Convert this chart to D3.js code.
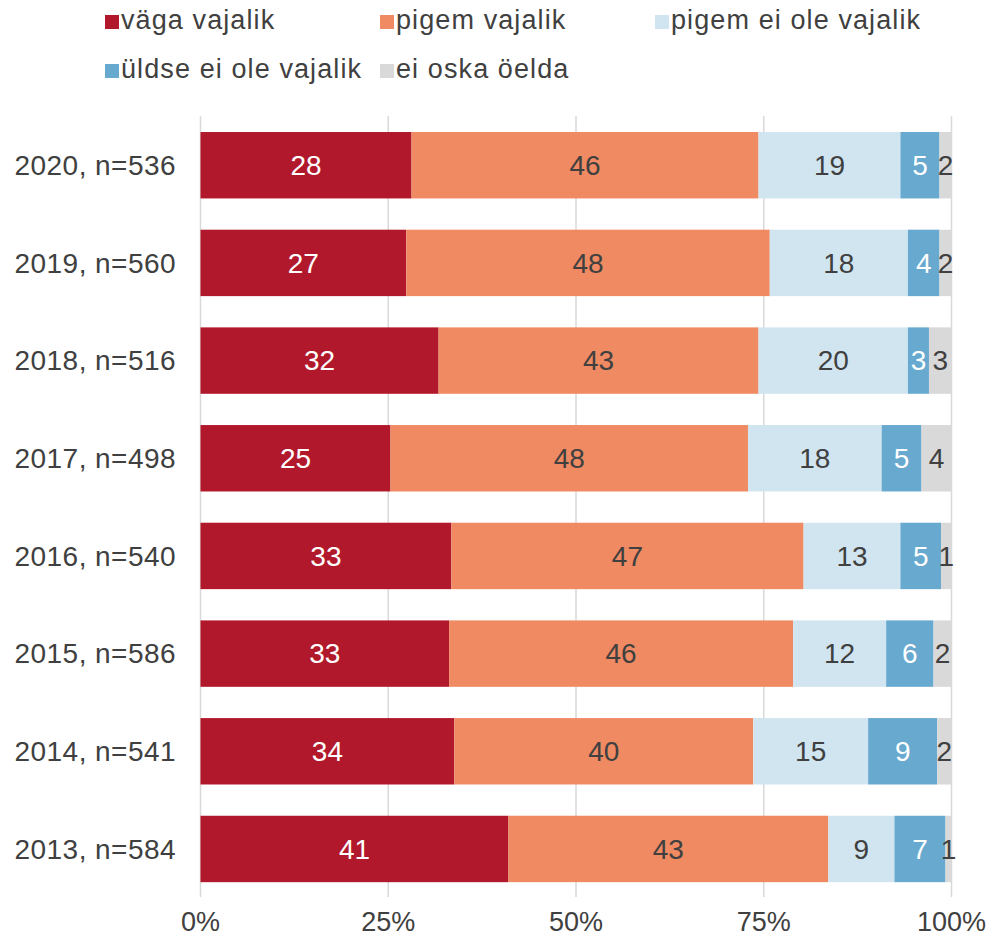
<!DOCTYPE html>
<html>
<head>
<meta charset="utf-8">
<script src="https://cdn.jsdelivr.net/npm/d3@7"></script>
<style>
  html, body { margin: 0; padding: 0; background: #fff; }
  svg { display: block; font-family: "Liberation Sans", Arial, Helvetica, sans-serif; }
</style>
</head>
<body>
<div id="chart"></div>
<script>
// ---- data ----
const categories = ["2020, n=536", "2019, n=560", "2018, n=516", "2017, n=498",
                    "2016, n=540", "2015, n=586", "2014, n=541", "2013, n=584"];
const seriesNames = ["väga vajalik", "pigem vajalik", "pigem ei ole vajalik", "üldse ei ole vajalik", "ei oska öelda"];
const vagaVajalik      = [28.1, 27.4, 31.7, 25.3, 33.4, 33.1, 33.8, 41.0];
const pigemVajalik     = [46.2, 48.4, 42.6, 47.6, 46.9, 45.8, 39.8, 42.6];
const pigemEiOleVaj    = [18.9, 18.4, 19.9, 17.8, 12.9, 12.4, 15.3, 8.8];
const uldseEiOleVaj    = [5.2, 4.2, 2.8, 5.3, 5.4, 6.3, 9.2, 6.8];
const eiOskaOelda      = [1.6, 1.6, 3.0, 4.0, 1.4, 2.4, 1.9, 0.8];
const barLabels = [
  [28, 46, 19, 5, 2],
  [27, 48, 18, 4, 2],
  [32, 43, 20, 3, 3],
  [25, 48, 18, 5, 4],
  [33, 47, 13, 5, 1],
  [33, 46, 12, 6, 2],
  [34, 40, 15, 9, 2],
  [41, 43, 9, 7, 1]
];
const tickValues = [0, 25, 50, 75, 100];
const tickLabels = ["0%", "25%", "50%", "75%", "100%"];

// ---- styles ----
const colors = ["#b2182b", "#ef8a62", "#d1e5f0", "#67a9cf", "#d9d9d9"];
const labelColors = ["#ffffff", "#404040", "#404040", "#ffffff", "#404040"];
const textColor = "#404040";

const W = 991, H = 936;
const svg = d3.select("#chart").append("svg").attr("width", W).attr("height", H);

const seriesArrays = [vagaVajalik, pigemVajalik, pigemEiOleVaj, uldseEiOleVaj, eiOskaOelda];
const table = categories.map((c, i) => {
  const row = { cat: c, idx: i };
  seriesNames.forEach((s, j) => row[s] = seriesArrays[j][i]);
  return row;
});
const stacked = d3.stack().keys(seriesNames)(table);

const x = d3.scaleLinear().domain([0, 100]).range([200.5, 951.5]);
const y = d3.scaleBand().domain(categories).range([116.4, 897.8]).paddingInner(0.32).paddingOuter(0.16);

// gridlines
svg.append("g").selectAll("line").data(tickValues).join("line")
  .attr("x1", d => x(d)).attr("x2", d => x(d))
  .attr("y1", 116).attr("y2", 897)
  .attr("stroke", "#d9d9d9").attr("stroke-width", 1.5);

// tick labels
svg.append("g").selectAll("text").data(tickValues).join("text")
  .attr("x", d => x(d)).attr("y", 931)
  .attr("text-anchor", "middle")
  .attr("fill", textColor).attr("font-size", 27)
  .text((d, i) => tickLabels[i]);

// category labels
svg.append("g").selectAll("text").data(categories).join("text")
  .attr("x", 176).attr("y", d => y(d) + y.bandwidth() / 2)
  .attr("dy", "0.35em")
  .attr("text-anchor", "end")
  .attr("fill", textColor).attr("font-size", 28)
  .attr("letter-spacing", 0.45)
  .text(d => d);

// bars
const layers = svg.append("g").selectAll("g").data(stacked).join("g")
  .attr("fill", (d, i) => colors[i]);
layers.selectAll("rect").data(d => d).join("rect")
  .attr("x", d => x(d[0]))
  .attr("width", d => x(d[1]) - x(d[0]))
  .attr("y", d => y(d.data.cat))
  .attr("height", y.bandwidth());

// bar value labels
stacked.forEach((layer, si) => {
  svg.append("g").selectAll("text").data(layer).join("text")
    .attr("x", d => (x(d[0]) + x(d[1])) / 2)
    .attr("y", d => y(d.data.cat) + y.bandwidth() / 2)
    .attr("dy", "0.35em")
    .attr("text-anchor", "middle")
    .attr("fill", labelColors[si]).attr("font-size", 28)
    .text(d => barLabels[d.data.idx][si]);
});

// legend
const legendPos = [[105, 20], [380, 20], [655, 20], [105, 69], [380, 69]];
const legend = svg.append("g").selectAll("g").data(seriesNames).join("g")
  .attr("transform", (d, i) => `translate(${legendPos[i][0]},${legendPos[i][1]})`);
legend.append("rect")
  .attr("x", 0).attr("y", -5).attr("width", 14).attr("height", 14)
  .attr("fill", (d, i) => colors[i]);
legend.append("text")
  .attr("x", 16).attr("y", 0).attr("dy", "0.33em")
  .attr("fill", textColor).attr("font-size", 27)
  .attr("letter-spacing", 1.1)
  .text(d => d);
</script>
</body>
</html>
